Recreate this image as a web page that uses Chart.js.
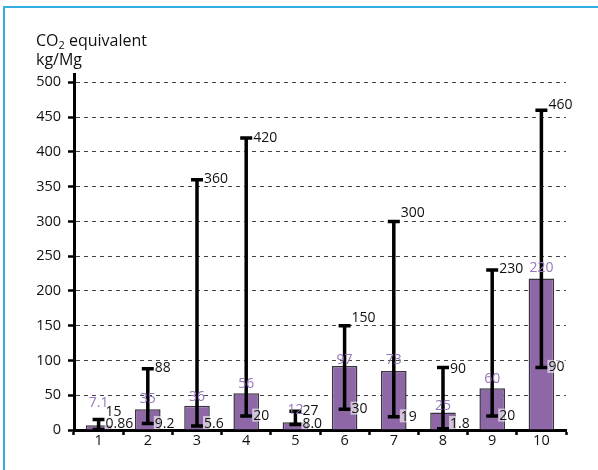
<!DOCTYPE html>
<html>
<head>
<meta charset="utf-8">
<script src="https://cdn.jsdelivr.net/npm/chart.js@4.4.0/dist/chart.umd.min.js"></script>
<style>
  body { margin: 0; background: #fff; }
</style>
</head>
<body>
<canvas id="BarChart" width="598" height="470"></canvas>
<script>
const categories = ['1', '2', '3', '4', '5', '6', '7', '8', '9', '10'];
// bar heights as drawn, and the numbers printed above them
const barValues = [7, 30, 35, 53, 11, 92, 85, 25, 60, 218];
const barLabels = ['7.1', '35', '36', '56', '12', '97', '73', '25', '60', '220'];
// range (error bar) ends
const highValues = [15, 88, 360, 420, 27, 150, 300, 90, 230, 460];
const lowValues = [0.86, 9.2, 5.6, 20, 8.0, 30, 19, 1.8, 20, 90];
const highLabels = ['15', '88', '360', '420', '27', '150', '300', '90', '230', '460'];
const lowLabels = ['0.86', '9.2', '5.6', '20', '8.0', '30', '19', '1.8', '20', '90'];
const yTicks = [0, 50, 100, 150, 200, 250, 300, 350, 400, 450, 500];

// small label nudges (px) so the texts sit like in the original
const highNudge = [-9, -2, -1.5, -1, -1.3, -8.5, -9, 1, -2.5, -6];
const barLabelNudge = [-23, -11, -10, -10, -13, -7, -12, -8, -10, -11];

const fontFamily = '"Open Sans", sans-serif';

const frame = {
  id: 'frame',
  beforeDraw(chart) {
    const ctx = chart.ctx;
    ctx.save();
    ctx.fillStyle = '#fff';
    ctx.fillRect(0, 0, chart.width, chart.height);
    ctx.strokeStyle = '#35ade2';
    ctx.lineWidth = 2;
    ctx.beginPath();
    ctx.moveTo(4, chart.height);
    ctx.lineTo(4, 7);
    ctx.lineTo(chart.width, 7);
    ctx.stroke();
    ctx.restore();
  }
};

const errorBars = {
  id: 'errorBars',
  afterDatasetsDraw(chart) {
    const ctx = chart.ctx;
    const y = chart.scales.y;
    const bars = chart.getDatasetMeta(0).data;
    ctx.save();
    ctx.strokeStyle = '#000';
    ctx.lineWidth = 3.5;
    bars.forEach((bar, i) => {
      const yHi = y.getPixelForValue(highValues[i]);
      const yLo = y.getPixelForValue(lowValues[i]);
      ctx.beginPath();
      ctx.moveTo(bar.x, yHi);
      ctx.lineTo(bar.x, yLo);
      ctx.moveTo(bar.x - 6, yHi);
      ctx.lineTo(bar.x + 6, yHi);
      ctx.moveTo(bar.x - 6, yLo);
      ctx.lineTo(bar.x + 6, yLo);
      ctx.stroke();
    });
    ctx.restore();
  }
};

const textLabels = {
  id: 'textLabels',
  afterDraw(chart) {
    const ctx = chart.ctx;
    const y = chart.scales.y;
    const bars = chart.getDatasetMeta(0).data;
    ctx.save();
    ctx.font = '14px ' + fontFamily;
    ctx.textBaseline = 'alphabetic';
    bars.forEach((bar, i) => {
      // purple value above bar
      ctx.fillStyle = '#9677bd';
      ctx.textAlign = 'center';
      ctx.fillText(barLabels[i], bar.x, bar.y + barLabelNudge[i] + 5);

      ctx.textAlign = 'left';
      // high end
      const yHi = y.getPixelForValue(highValues[i]) + highNudge[i];
      ctx.fillStyle = '#111';
      ctx.fillText(highLabels[i], bar.x + 7, yHi + 5);

      // low end, on a light box
      const yLo = Math.min(y.getPixelForValue(lowValues[i]) - 1, 422.5);
      const w = ctx.measureText(lowLabels[i]).width;
      ctx.fillStyle = 'rgba(255,255,255,0.6)';
      ctx.fillRect(bar.x + 6, yLo - 6.5, w + 2, 13);
      ctx.fillStyle = '#111';
      ctx.fillText(lowLabels[i], bar.x + 7, yLo + 5);
    });

    // axis title
    ctx.fillStyle = '#111';
    ctx.font = '16px ' + fontFamily;
    ctx.fillText('CO', 36, 45.5);
    let x = 36 + ctx.measureText('CO').width;
    ctx.font = '11px ' + fontFamily;
    ctx.fillText('2', x, 49);
    x += ctx.measureText('2').width;
    ctx.font = '16px ' + fontFamily;
    ctx.fillText(' equivalent', x, 45.5);
    ctx.fillText('kg/Mg', 36, 64.5);
    ctx.restore();
  }
};

new Chart(document.getElementById('BarChart'), {
  type: 'bar',
  data: {
    labels: categories,
    datasets: [{
      data: barValues,
      backgroundColor: '#8e68a6',
      borderColor: '#3b3340',
      borderWidth: 1.5,
      barPercentage: 0.52,
      categoryPercentage: 1
    }]
  },
  options: {
    responsive: false,
    animation: false,
    layout: { padding: { top: 74, right: 32, left: 0, bottom: 0 } },
    plugins: {
      legend: { display: false },
      tooltip: { enabled: false }
    },
    scales: {
      x: {
        z: 1,
        grid: { display: true, drawOnChartArea: false, tickLength: 5, tickWidth: 2.5, tickColor: '#000' },
        border: { color: '#000', width: 3 },
        ticks: { font: { family: fontFamily, size: 14.5 }, color: '#111', padding: -3 },
        afterFit: s => { s.height = 40; }
      },
      y: {
        min: 0,
        max: 512,
        afterBuildTicks: s => { s.ticks = yTicks.map(v => ({ value: v })); },
        ticks: { font: { family: fontFamily, size: 14.5 }, color: '#111', padding: 7 },
        grid: { color: '#444', lineWidth: 1, tickLength: 6, tickWidth: 2.5, tickColor: '#000' },
        border: { color: '#000', width: 3, dash: [4, 4] },
        afterFit: s => { s.width = 74; }
      }
    }
  },
  plugins: [frame, errorBars, textLabels]
});
</script>
</body>
</html>
